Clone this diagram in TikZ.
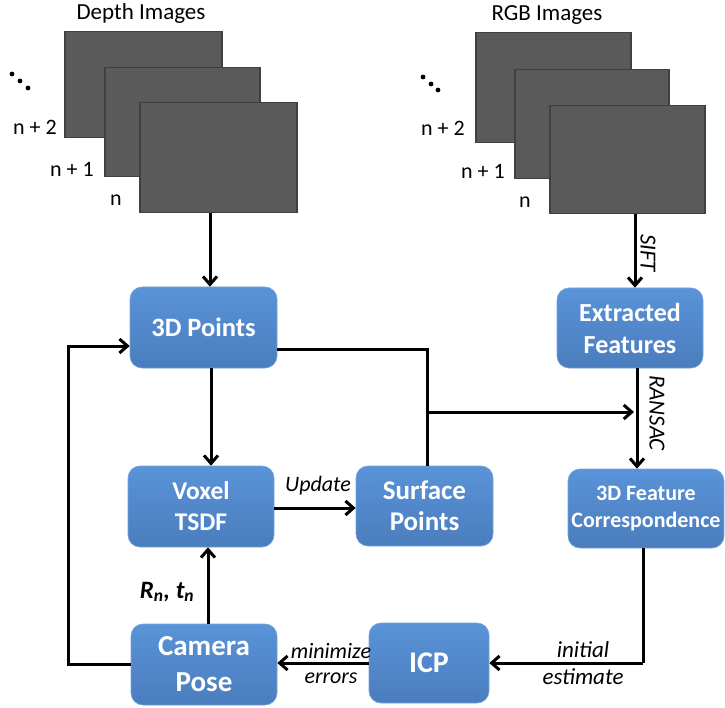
\documentclass[tikz,border=0pt]{standalone}
\usepackage{fontspec}
\setmainfont{Carlito}
\usetikzlibrary{arrows.meta,calc}
\definecolor{boxtop}{HTML}{5A93D8}
\definecolor{boxbot}{HTML}{4A7DBD}
\definecolor{imgfill}{HTML}{5A5A5A}
\definecolor{imgedge}{HTML}{404040}
\newcommand{\fsz}[2]{\fontsize{#1}{#2}\selectfont}
\tikzset{
  img/.style={draw=imgedge,fill=imgfill,line width=1.5pt,minimum width=156pt,minimum height=108pt,inner sep=0pt,anchor=north west},
  blk/.style={rounded corners=12pt,top color=boxtop,bottom color=boxbot,draw=boxtop!85!white,line width=0.6pt,
     text=white,font=\fsz{26}{31}\bfseries,align=center,inner sep=0pt},
  arr/.style={line width=3pt,-{Straight Barb[length=8pt,width=14pt,line width=3pt]}},
  ln/.style={line width=3pt},
  lab/.style={font=\fsz{22}{26}\itshape,inner sep=1pt},
  ttl/.style={font=\fsz{23}{27}},
  num/.style={font=\fsz{22}{26}},
}
\begin{document}
\begin{tikzpicture}[x=1pt,y=-1pt]
\useasboundingbox (0,0) rectangle (725,708);
% Depth images
\node[ttl] (dt) at (141,13) {Depth Images};
\node[img,minimum width=157pt,minimum height=106pt] (d1) at (64,31) {};
\node[img,minimum width=155pt,minimum height=109pt] (d2) at (104,67) {};
\node[img,minimum width=157pt,minimum height=110pt] (d3) at (139,102) {};
\fill (12,74) circle (2.4pt) (20,81) circle (2.4pt) (28,88) circle (2.4pt);
\node[num] (dn2) at (35,127) {n + 2};
\node[num] (dn1) at (72,169) {n + 1};
\node[num] (dn0) at (116,200) {n};
% RGB images
\node[ttl] (rt) at (547,15) {RGB Images};
\node[img,minimum width=155pt,minimum height=110pt] (r1) at (475,32) {};
\node[img,minimum width=154pt,minimum height=109pt] (r2) at (514,69) {};
\node[img,minimum width=155pt,minimum height=108pt] (r3) at (549,105) {};
\fill (423,77) circle (2.4pt) (431,84) circle (2.4pt) (438,90) circle (2.4pt);
\node[num] (rn2) at (443,128) {n + 2};
\node[num] (rn1) at (483,171) {n + 1};
\node[num] (rn0) at (525,202) {n};
% blocks
\node[blk,minimum width=147pt,minimum height=81pt,font=\fsz{26.5}{31}\bfseries] (p3d) at (203.5,327.5) {3D Points};
\node[blk,minimum width=146pt,minimum height=81pt,font=\fsz{25.5}{31}\bfseries] (vox) at (201,506.5) {Voxel\\TSDF};
\node[blk,minimum width=137pt,minimum height=80pt,font=\fsz{27}{31}\bfseries] (surf) at (424.5,506) {Surface\\Points};
\node[blk,minimum width=146pt,minimum height=81pt,font=\fsz{29}{36}\bfseries] (cam) at (204,664.5) {Camera\\Pose};
\node[blk,minimum width=120pt,minimum height=80pt,font=\fsz{30}{36}\bfseries] (icp) at (429,663) {ICP};
\node[blk,minimum width=146pt,minimum height=80pt,font=\fsz{26}{32}\bfseries] (ext) at (630,328) {Extracted\\Features};
\node[blk,minimum width=156pt,minimum height=79pt,font=\fsz{22}{27}\bfseries] (fc) at (646,508.5) {3D Feature\\Correspondence};
% helper coordinates
\coordinate (xa) at (210,0);
\coordinate (xb) at (211,0);
\coordinate (xc) at (208,0);
\coordinate (xs) at (635,0);
\coordinate (xr) at (637,0);
\coordinate (xf) at (643,0);
\coordinate (xj) at (427,0);
\coordinate (yo) at (0,349);
\coordinate (yu) at (0,508);
\coordinate (yi) at (0,663);
\coordinate (fbtop) at (68,346);
\coordinate (fbbot) at (68,664.5);
\coordinate (junc) at (427,412);
\coordinate (jend) at (634,412);
% connectors
\draw[arr] (d3.south -| xa) -- (p3d.north -| xa);
\draw[arr] (p3d.south -| xb) -- (vox.north -| xb);
\draw[arr] (vox.east |- yu) -- (surf.west |- yu);
\draw[ln] (p3d.east |- yo) -- (xj |- yo) -- (surf.north -| xj);
\draw[arr] (junc) -- (jend);
\draw[arr] (r3.south -| xs) -- (ext.north -| xs);
\draw[arr] (ext.south -| xr) -- (fc.north -| xr);
\draw[ln] (fc.south -| xf) -- (xf |- yi);
\draw[arr] (xf |- yi) -- (icp.east |- yi);
\draw[arr] (icp.west |- yi) -- (cam.east |- yi);
\draw[arr] (cam.north -| xc) -- (vox.south -| xc);
\draw[arr] (cam.west) -- (fbbot) -- (fbtop) -- (p3d.west |- fbtop);
% labels
\node[lab] (lupd) at (318,486) {Update};
\node[lab] (lmin) at (331,651) {minimize};
\node[lab] (lerr) at (331,678) {errors};
\node[lab,font=\fsz{23}{26}\itshape] (lini) at (583,650) {initial};
\node[lab,font=\fsz{23}{26}\itshape] (lest) at (583,677) {estimate};
\node[lab,rotate=-90,font=\fsz{23}{26}\itshape] (lsift) at (648,253) {SIFT};
\node[lab,rotate=-90,font=\fsz{23}{26}\itshape] (lran) at (657,413) {RANSAC};
\node[font=\fsz{25}{28}\bfseries\itshape] (lrt) at (167,592) {R\textsubscript{n}, t\textsubscript{n}};
\end{tikzpicture}
\end{document}
